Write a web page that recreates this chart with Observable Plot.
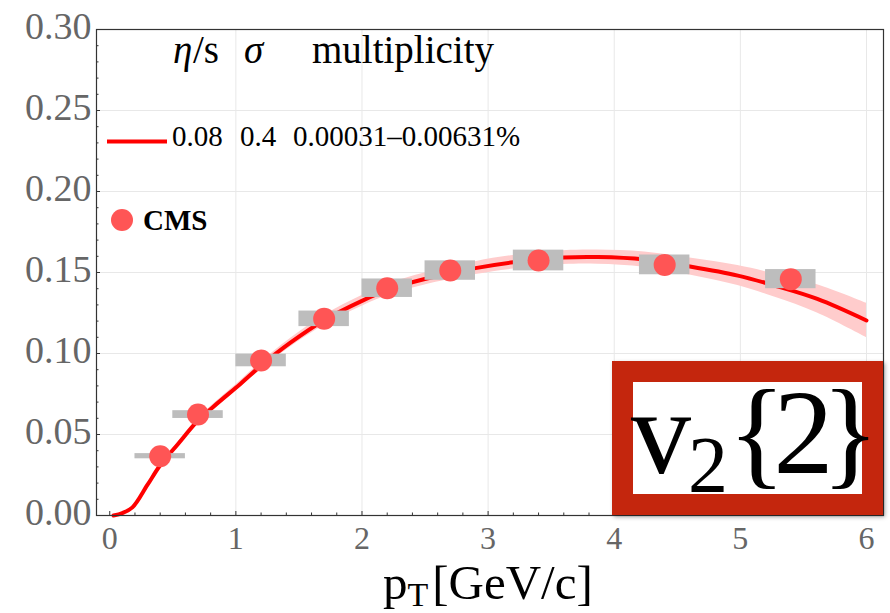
<!DOCTYPE html>
<html><head><meta charset="utf-8">
<script src="https://cdn.jsdelivr.net/npm/d3@7"></script>
<script src="https://cdn.jsdelivr.net/npm/@observablehq/plot@0.6"></script>
<style>
body{margin:0;background:#fff}
svg text{font-family:"Liberation Serif","Times New Roman",serif}
</style>
</head><body><div id="chart"></div>
<script>
// Hydro curve (eta/s = 0.08, sigma = 0.4)
const curvePt = [0.03, 0.1, 0.18, 0.3, 0.4, 0.54, 0.69, 0.82, 1.04, 1.2, 1.43, 1.7, 2.0, 2.23, 2.49, 2.9, 3.2, 3.6, 3.87, 4.24, 4.6, 4.98, 5.27, 5.61, 6.0];
const curveV2 = [0, 0.0015, 0.0050, 0.019, 0.031, 0.044, 0.0578, 0.067, 0.0815, 0.0925, 0.1065, 0.1205, 0.1325, 0.1400, 0.1458, 0.1527, 0.1563, 0.1592, 0.1595, 0.158, 0.1537, 0.1481, 0.142, 0.1337, 0.1204];
const bandLow  = [0, 0.0010, 0.0044, 0.0182, 0.0300, 0.0428, 0.0564, 0.0654, 0.0795, 0.0902, 0.1039, 0.1175, 0.1292, 0.1365, 0.1421, 0.1487, 0.1521, 0.1549, 0.1551, 0.1533, 0.1485, 0.1419, 0.1348, 0.1250, 0.1098];
const bandHigh = [0.0003, 0.0020, 0.0056, 0.0198, 0.0320, 0.0452, 0.0592, 0.0686, 0.0835, 0.0948, 0.1091, 0.1235, 0.1358, 0.1435, 0.1495, 0.1567, 0.1605, 0.1635, 0.1639, 0.1627, 0.1589, 0.1543, 0.1492, 0.1424, 0.1310];

// CMS data
const cmsPt   = [0.4, 0.7, 1.2, 1.7, 2.2, 2.7, 3.4, 4.4, 5.4];
const cmsV2   = [0.0366, 0.0623, 0.0957, 0.1214, 0.1403, 0.1512, 0.1574, 0.1547, 0.1459];
const cmsPtLo = [0.2, 0.5, 1.0, 1.5, 2.0, 2.5, 3.2, 4.2, 5.2];
const cmsPtHi = [0.6, 0.9, 1.4, 1.9, 2.4, 2.9, 3.6, 4.6, 5.6];
const cmsSys  = [0.0016, 0.0024, 0.0039, 0.0048, 0.0057, 0.0060, 0.0064, 0.0061, 0.0059];

// Ticks
const xTicks = [0, 1, 2, 3, 4, 5, 6];
const xMinor = [0.2, 0.4, 0.6, 0.8, 1.2, 1.4, 1.6, 1.8, 2.2, 2.4, 2.6, 2.8, 3.2, 3.4, 3.6, 3.8, 4.2, 4.4, 4.6, 4.8, 5.2, 5.4, 5.6, 5.8, 6.0];
const xGrid = [1, 2, 3, 4, 5, 6];
const yTicks = [0, 0.05, 0.10, 0.15, 0.20, 0.25, 0.30];
const yMinor = [0.01, 0.02, 0.03, 0.04, 0.06, 0.07, 0.08, 0.09, 0.11, 0.12, 0.13, 0.14, 0.16, 0.17, 0.18, 0.19, 0.21, 0.22, 0.23, 0.24, 0.26, 0.27, 0.28, 0.29];
const yGrid = [0.05, 0.10, 0.15, 0.20, 0.25];

// Texts
const legendHeader = ["η", "/s", "σ", "multiplicity"];
const legendRow = ["0.08", "0.4", "0.00031–0.00631%"];
const dataLabel = "CMS";
const xLabel = ["p", "T", "[GeV/c]"];
const boxLabel = ["v", "2", "{2}"];

const curve = curvePt.map((x, i) => ({x, y: curveV2[i], lo: bandLow[i], hi: bandHigh[i]}));
const cms = cmsPt.map((x, i) => ({x, y: cmsV2[i], x1: cmsPtLo[i], x2: cmsPtHi[i], y1: cmsV2[i] - cmsSys[i], y2: cmsV2[i] + cmsSys[i]}));

const tickColor = "#333";
const labelColor = "#666";

const plot = Plot.plot({
  width: 890, height: 613,
  marginTop: 29, marginBottom: 98, marginLeft: 96, marginRight: 7,
  x: {domain: [-0.105, 6.135]},
  y: {domain: [0, 0.30]},
  style: {background: "white", fontFamily: "Liberation Serif"},
  marks: [
    Plot.gridX(xGrid, {stroke: "#e8e8e8", strokeOpacity: 1}),
    Plot.gridY(yGrid, {stroke: "#e8e8e8", strokeOpacity: 1}),
    Plot.areaY(curve, {x: "x", y1: "lo", y2: "hi", fill: "#ffcccc", curve: "catmull-rom"}),
    Plot.line(curve, {x: "x", y: "y", stroke: "#ff0000", strokeWidth: 4, curve: "catmull-rom"}),
    Plot.rect(cms, {x1: "x1", x2: "x2", y1: "y1", y2: "y2", fill: "#bdbdbd"}),
    Plot.dot(cms, {x: "x", y: "y", r: 11, fill: "#ff5555"}),
    Plot.axisX({ticks: xTicks, tickSize: 0, tickPadding: 11, fontSize: 32, fill: labelColor, label: null, tickFormat: d => String(d)}),
    Plot.axisY({ticks: yTicks, tickSize: 0, tickPadding: 5, fontSize: 38, fill: labelColor, label: null, tickFormat: d => d.toFixed(2), dy: -2.5}),
    Plot.axisX({ticks: xTicks, tickSize: -4, tickFormat: () => "", stroke: tickColor, label: null}),
    Plot.axisX({ticks: xMinor, tickSize: -2.5, tickFormat: () => "", stroke: tickColor, label: null}),
    Plot.axisY({ticks: yTicks, tickSize: -4, tickFormat: () => "", stroke: tickColor, label: null}),
    Plot.axisY({ticks: yMinor, tickSize: -2.5, tickFormat: () => "", stroke: tickColor, label: null}),
    Plot.frame({stroke: "#333", strokeWidth: 1.2})
  ]
});
document.getElementById("chart").appendChild(plot);

const svg = d3.select(plot);
const [fx0, fx1] = plot.scale("x").range;
const [fy1, fy0] = plot.scale("y").range; // bottom, top

// Legend
const lg = svg.append("g").attr("text-anchor", "start");
const hdr = lg.append("text").attr("y", fy0 + 34).attr("font-size", 39).attr("fill", "#000");
hdr.append("tspan").attr("x", fx0 + 77).attr("font-style", "italic").text(legendHeader[0]);
hdr.append("tspan").attr("x", fx0 + 97).text(legendHeader[1]);
hdr.append("tspan").attr("x", fx0 + 148).attr("font-style", "italic").text(legendHeader[2]);
hdr.append("tspan").attr("x", fx0 + 216).text(legendHeader[3]);
const row = lg.append("text").attr("y", fy0 + 117).attr("font-size", 29).attr("fill", "#000");
row.append("tspan").attr("x", fx0 + 76).text(legendRow[0]);
row.append("tspan").attr("x", fx0 + 144).text(legendRow[1]);
row.append("tspan").attr("x", fx0 + 197).text(legendRow[2]);
lg.append("line").attr("x1", fx0 + 11).attr("x2", fx0 + 71).attr("y1", fy0 + 112.5).attr("y2", fy0 + 112.5)
  .attr("stroke", "#ff0000").attr("stroke-width", 4);
lg.append("circle").attr("cx", fx0 + 26).attr("cy", fy0 + 191).attr("r", 11).attr("fill", "#ff5555");
lg.append("text").attr("x", fx0 + 47).attr("y", fy0 + 201).attr("font-size", 29).attr("font-weight", "bold")
  .attr("fill", "#000").text(dataLabel);

// X-axis title
const xt = svg.append("text").attr("text-anchor", "start").attr("x", fx0 + 287).attr("y", fy1 + 84).attr("font-size", 49).attr("fill", "#000");
xt.append("tspan").text(xLabel[0]);
xt.append("tspan").attr("font-size", 34).attr("dy", 7).text(xLabel[1]);
xt.append("tspan").attr("dy", -7).attr("dx", 4).text(xLabel[2]);

// v2{2} box
const defs = svg.append("defs");
const f = defs.append("filter").attr("id", "shadow").attr("x", "-10%").attr("y", "-10%").attr("width", "130%").attr("height", "130%");
f.append("feDropShadow").attr("dx", 2).attr("dy", 2).attr("stdDeviation", 2).attr("flood-color", "#000").attr("flood-opacity", 0.35);
const bw = 271, bh = 154, bt = 21;
const bg = svg.append("g").attr("text-anchor", "start");
bg.append("rect").attr("x", fx1 - bw).attr("y", fy1 - bh).attr("width", bw).attr("height", bh)
  .attr("fill", "#c4260a").attr("filter", "url(#shadow)");
bg.append("rect").attr("x", fx1 - bw + bt).attr("y", fy1 - bh + bt).attr("width", bw - 2 * bt).attr("height", bh - 2 * bt)
  .attr("fill", "#fff");
const bx = bg.append("text").attr("y", fy1 - 42).attr("font-size", 120).attr("fill", "#000");
bx.append("tspan").attr("x", fx1 - bw + 19).text(boxLabel[0]);
bx.append("tspan").attr("x", fx1 - bw + 76).attr("dy", 19).attr("font-size", 80).text(boxLabel[1]);
bx.append("tspan").attr("x", fx1 - bw + 116).attr("dy", -19).attr("letter-spacing", -12).text(boxLabel[2]);
</script>
</body></html>
